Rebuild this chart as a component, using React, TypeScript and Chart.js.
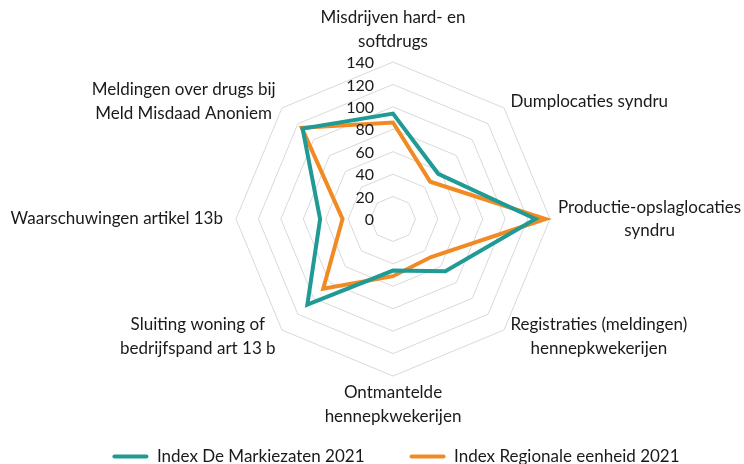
import React, { useEffect, useRef } from "react";
import { Chart, registerables, RadialLinearScale } from "chart.js";

Chart.register(...registerables);

const categories: (string | string[])[] = [
  ["Misdrijven hard- en", "softdrugs"],
  "Dumplocaties syndru",
  ["Productie-opslaglocaties", "syndru"],
  ["Registraties (meldingen)", "hennepkwekerijen"],
  ["Ontmantelde", "hennepkwekerijen"],
  ["Sluiting woning of", "bedrijfspand art 13 b"],
  "Waarschuwingen artikel 13b",
  ["Meldingen over drugs bij", "Meld Misdaad Anoniem"],
];
const markiezaten = [94, 57, 127, 66, 46, 108, 65, 114];
const regionaal = [86, 47, 136, 48, 51, 88, 45, 115];
const tickValues = [0, 20, 40, 60, 80, 100, 120, 140];
const seriesNames = ["Index De Markiezaten 2021", "Index Regionale eenheid 2021"];

const FONT = "Lato, 'Noto Sans', sans-serif";
const TEXT = "#1a1a1a";

// layout of the polar area (plot geometry, not data)
const PLOT = { cx: 393, cy: 219, radius: 157 };

const proto: any = (RadialLinearScale as any).prototype;
if (!proto.__patched) {
  const orig = proto.setCenterPoint;
  proto.setCenterPoint = function (l: number, r: number, t: number, b: number) {
    orig.call(this, l, r, t, b);
    this.xCenter = PLOT.cx;
    this.yCenter = PLOT.cy;
    this.drawingArea = PLOT.radius;
  };
  proto.__patched = true;
}

const tickPlugin = {
  id: "leftTicks",
  afterDraw(chart: any) {
    const scale = chart.scales.r;
    const ctx = chart.ctx;
    ctx.save();
    ctx.font = `16px ${FONT}`;
    ctx.fillStyle = TEXT;
    ctx.textAlign = "right";
    ctx.textBaseline = "middle";
    for (const v of tickValues) {
      const d = scale.getDistanceFromCenterForValue(v);
      ctx.fillText(String(v), scale.xCenter - 19, scale.yCenter - d + 1);
    }
    ctx.restore();
  },
};

const LINE_H = 23.5;
const labelPlugin = {
  id: "blockLabels",
  afterDraw(chart: any) {
    const scale = chart.scales.r;
    const ctx = chart.ctx;
    ctx.save();
    ctx.font = `17px ${FONT}`;
    ctx.fillStyle = TEXT;
    ctx.textAlign = "center";
    ctx.textBaseline = "middle";
    categories.forEach((lab, i) => {
      const lines = Array.isArray(lab) ? lab : [lab];
      const v = scale.getPointPosition(i, scale.drawingArea);
      const dx = v.x - scale.xCenter;
      const dy = v.y - scale.yCenter;
      let pad = 9;
      if (Math.abs(dy) < 1) pad = dx > 0 ? 8 : 13;
      else if (Math.abs(dx) < 1 && dy > 0) pad = 5;
      const p = scale.getPointPosition(i, scale.drawingArea + pad);
      const w = Math.max(...lines.map((t: string) => ctx.measureText(t).width));
      const h = lines.length * LINE_H;
      let cx: number, top: number;
      if (Math.abs(dx) < 1) {
        cx = p.x;
        top = dy < 0 ? p.y - h : p.y;
      } else {
        cx = dx > 0 ? p.x + w / 2 : p.x - w / 2;
        top = p.y - h / 2;
      }
      lines.forEach((t: string, k: number) => {
        ctx.fillText(t, cx, top + LINE_H * (k + 0.5));
      });
    });
    ctx.restore();
  },
};

export default function App() {
  const ref = useRef<HTMLCanvasElement>(null);
  useEffect(() => {
    const chart = new Chart(ref.current!, {
      type: "radar",
      data: {
        labels: categories,
        datasets: [
          {
            label: seriesNames[0],
            data: markiezaten,
            borderColor: "#1f9a94",
            backgroundColor: "#1f9a94",
            borderWidth: 4,
            pointRadius: 0,
            fill: false,
          },
          {
            label: seriesNames[1],
            data: regionaal,
            borderColor: "#f28a24",
            backgroundColor: "#f28a24",
            borderWidth: 4,
            pointRadius: 0,
            fill: false,
          },
        ],
      },
      options: {
        animation: false,
        responsive: false,
        layout: { padding: { top: 4, bottom: -11, left: 52, right: 4 } },
        plugins: {
          legend: {
            position: "bottom",
            labels: {
              boxWidth: 36,
              boxHeight: 4,
              padding: 45,
              useBorderRadius: true,
              borderRadius: 2,
              color: TEXT,
              font: { family: FONT, size: 17 },
              generateLabels(c: any) {
                const items = Chart.defaults.plugins.legend.labels.generateLabels(c);
                items.forEach((it: any) => {
                  it.lineWidth = 0;
                });
                return items;
              },
            },
          },
          tooltip: { enabled: false },
        },
        scales: {
          r: {
            min: 0,
            max: 140,
            ticks: { display: false, stepSize: 20 },
            grid: { color: "#d9d9d9", lineWidth: 1 },
            angleLines: { display: false },
            pointLabels: { display: false },
          },
        },
      },
      plugins: [tickPlugin, labelPlugin],
    });
    return () => chart.destroy();
  }, []);
  return (
    <div style={{ position: "fixed", left: 0, top: 0, width: 744, height: 464, background: "#fff" }}>
      <canvas ref={ref} width={744} height={464} />
    </div>
  );
}
